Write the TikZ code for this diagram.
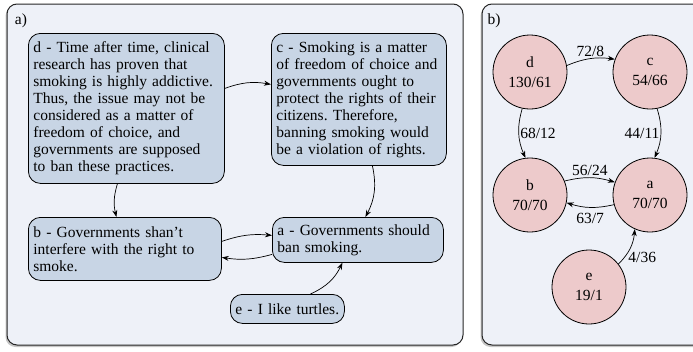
\documentclass[tikz,border=0pt]{standalone}
\usepackage{fontspec}
\setmainfont{Liberation Serif}
\usetikzlibrary{positioning, arrows.meta, shadows}
\definecolor{panelbg}{HTML}{EEF1F8}
\definecolor{argfill}{HTML}{C8D5E5}
\definecolor{circfill}{HTML}{EDCACB}
\frenchspacing

\tikzset{
  panel/.style={draw=black!85, line width=1pt, fill=panelbg, rounded corners=10pt,
                drop shadow={shadow xshift=-1.5pt, shadow yshift=-2pt, opacity=0.45}},
  arg/.style={draw, line width=0.8pt, fill=argfill, rounded corners=12pt,
              align=left, anchor=north west, inner xsep=5pt, inner ysep=3pt},
  circ/.style={circle, draw, line width=0.8pt, fill=circfill, minimum size=74pt,
               inner sep=0pt, align=center},
  att/.style={-{Stealth[length=7pt, width=5pt]}, line width=0.7pt},
  wt/.style={inner sep=1pt}
}

\begin{document}
\begin{tikzpicture}[x=1pt, y=-1pt, font=\fontsize{15.5pt}{17pt}\selectfont]
  \useasboundingbox (0,0) rectangle (693,351);
  % panel frames
  \draw[panel] (7,4) rectangle (463,345);
  \draw[panel] (482,4) rectangle (705,345);
  \node (la) at (21,21) {a)};
  \node (lb) at (494,21) {b)};

  % a) the arguments
  \node[arg, text width=186pt, minimum height=150pt] (d) at (28,33)
    {d - Time after time, clinical\\research has proven that\\smoking is highly addictive.\\Thus, the issue may not be\\considered as a matter of\\freedom of choice, and\\governments are supposed\\to ban these practices.};
  \node[arg, text width=165pt, minimum height=132pt] (c) at (271,33)
    {c - Smoking is a matter\\of freedom of choice and\\governments ought to\\protect the rights of their\\citizens. Therefore,\\banning smoking would\\be a violation of rights.};
  \node[arg, text width=183pt, minimum height=63pt] (b) at (28,217)
    {b - Governments shan't\\interfere with the right to\\smoke.};
  \node[arg, text width=161pt, minimum height=45pt] (a) at (272,217)
    {a - Governments should\\ban smoking.};
  \node[arg, text width=104pt, minimum height=29pt] (e) at (230,294)
    {e - I like turtles.};

  \draw[att] ([yshift=20pt]d.east) to[bend left=15] ([yshift=15pt]c.west);
  \draw[att] ([xshift=-9pt]d.south) to[bend right=15] ([xshift=-8.5pt]b.north);
  \draw[att] ([xshift=13.5pt]c.south) to[bend left=20] ([xshift=7.5pt]a.north);
  \draw[att] ([yshift=7.5pt]b.east) to[bend left=12] ([yshift=4.5pt]a.west);
  \draw[att] ([yshift=-14.5pt]a.west) to[bend left=12] ([yshift=-8.5pt]b.east);
  \draw[att] ([xshift=23pt]e.north) to[bend right=20] ([xshift=-15.5pt]a.south);

  % b) weighted graph
  \node[circ] (nd) at (530,72)  {d\\[3pt]130/61};
  \node[circ] (nc) at (650,72)  {c\\[3pt]54/66};
  \node[circ] (nb) at (530,195) {b\\[3pt]70/70};
  \node[circ] (na) at (650,195) {a\\[3pt]70/70};
  \node[circ] (ne) at (589,287) {e\\[3pt]19/1};

  \draw[att] (nd.10)  to[bend left=15]  node[above=1pt, wt] {72/8}  (nc.160);
  \draw[att] (nd.258) to[bend right=20] node[right, wt] {68/12} (nb.97);
  \draw[att] (nc.281) to[bend left=20]  node[left, wt]  {44/11} (na.83);
  \draw[att] (nb.22)  to[bend left=15]  node[above=1pt, wt] {56/24} (na.160);
  \draw[att] (na.195) to[bend left=15]  node[below=5pt, wt] {63/7}  (nb.348);
  \draw[att] (ne.38)  to[bend right=20] node[pos=0.2, right=3pt, wt] {4/36}  (na.246);
\end{tikzpicture}
\end{document}
